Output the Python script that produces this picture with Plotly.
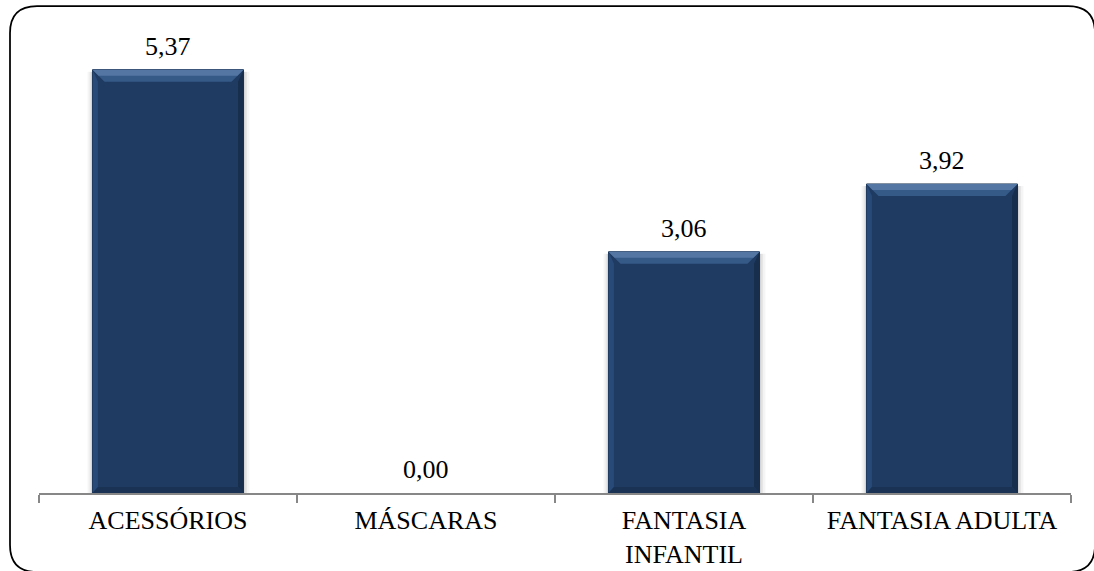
import plotly.graph_objects as go

categories = ["ACESSÓRIOS", "MÁSCARAS", "FANTASIA<br>INFANTIL", "FANTASIA ADULTA"]
values = [5.37, 0.00, 3.06, 3.92]

W, H = 1094, 571
ML, MR, MT, MB = 39, 23, 20, 78
YMAX = 6.0
BARW = 0.585
FONT = "Liberation Serif"

plot_w = W - ML - MR
plot_h = H - MT - MB

def px_x(px):
    return (px - ML) / plot_w

def px_y(py):
    return (H - MB - py) / plot_h

xs = list(range(len(categories)))

fig = go.Figure()
fig.add_trace(go.Bar(
    x=xs, y=values, width=BARW,
    marker=dict(color="#1F3B62",
                line=dict(color="#18304F", width=[1 if v > 0 else 0 for v in values])),
    hoverinfo="skip",
))

# value labels
annotations = []
for i, v in zip(xs, values):
    annotations.append(dict(x=i, y=v, xref="x", yref="y", text=f"{v:.2f}".replace(".", ","),
                            showarrow=False, yanchor="bottom", yshift=7,
                            font=dict(family=FONT, size=26, color="#000000")))

# bevel effect and soft shadow on bars, positioned in data coordinates
unit_px = plot_h / YMAX
cat_px = plot_w / len(categories)
dy = 12 / unit_px
dx = 12 / cat_px
shapes = []
for i, v in zip(xs, values):
    if v <= 0:
        continue
    l, r = i - BARW / 2, i + BARW / 2
    for k, a in ((5, 0.04), (3, 0.06), (1.5, 0.08)):
        s = k / cat_px
        shapes.append(dict(type="rect", xref="x", yref="y", layer="below", line=dict(width=0),
                           fillcolor=f"rgba(0,0,0,{a})",
                           x0=l - s, x1=r + s * 1.2, y0=0, y1=v - 2 / unit_px))
    shapes.append(dict(type="path", xref="x", yref="y", layer="above", line=dict(width=0),
                       fillcolor="#284a78",
                       path=f"M{l},{v} L{l+dx*0.45},{v-dy} L{l+dx*0.45},{dy*0.5} L{l},0 Z"))
    shapes.append(dict(type="path", xref="x", yref="y", layer="above", line=dict(width=0),
                       fillcolor="#172e4d",
                       path=f"M{r},{v} L{r-dx*0.45},{v-dy} L{r-dx*0.45},{dy*0.5} L{r},0 Z"))
    shapes.append(dict(type="path", xref="x", yref="y", layer="above", line=dict(width=0),
                       fillcolor="#1a3355",
                       path=f"M{l},0 L{l+dx*0.45},{dy*0.5} L{r-dx*0.45},{dy*0.5} L{r},0 Z"))
    shapes.append(dict(type="path", xref="x", yref="y", layer="above", line=dict(width=0),
                       fillcolor="#355a88",
                       path=f"M{l},{v} L{r},{v} L{r-dx},{v-dy} L{l+dx},{v-dy} Z"))
    shapes.append(dict(type="path", xref="x", yref="y", layer="above", line=dict(width=0),
                       fillcolor="#5476a3",
                       path=f"M{l},{v} L{r},{v} L{r-dx*0.5},{v-dy*0.5} L{l+dx*0.5},{v-dy*0.5} Z"))

# rounded outer border (bottom and right edges run just past the frame)
x0, x1 = px_x(10), px_x(1095)
y0, y1 = px_y(572), px_y(6)
rx = 27 / plot_w
ry = 27 / plot_h
border = (f"M{x0+rx},{y1} L{x1-rx},{y1} Q{x1},{y1} {x1},{y1-ry} "
          f"L{x1},{y0+ry} Q{x1},{y0} {x1-rx},{y0} "
          f"L{x0+rx},{y0} Q{x0},{y0} {x0},{y0+ry} "
          f"L{x0},{y1-ry} Q{x0},{y1} {x0+rx},{y1} Z")
shapes.append(dict(type="path", xref="paper", yref="paper", path=border,
                   line=dict(color="#000000", width=1.75), layer="above"))

fig.update_layout(
    width=W, height=H,
    margin=dict(l=ML, r=MR, t=MT, b=MB, autoexpand=False),
    paper_bgcolor="white", plot_bgcolor="white",
    showlegend=False,
    shapes=shapes,
    annotations=annotations,
    xaxis=dict(
        tickmode="array", tickvals=xs, ticktext=categories,
        range=[-0.5, len(categories) - 0.5],
        automargin=False,
        showline=True, linecolor="#878787", linewidth=1.5,
        ticks="", showgrid=False, zeroline=False,
        ticklabelstandoff=3,
        tickfont=dict(family=FONT, size=26, color="#000000"),
    ),
    yaxis=dict(range=[0, YMAX], visible=False, showgrid=False, zeroline=False, automargin=False),
)

fig.update_xaxes(minor=dict(tickmode="array", tickvals=[i - 0.5 for i in range(len(categories) + 1)],
                            ticks="outside", ticklen=8, tickcolor="#878787", tickwidth=1.5,
                            showgrid=False))

fig.write_html("out.html", config={"displayModeBar": False},
               post_script="document.body.style.margin='0';document.body.style.overflow='hidden';")
